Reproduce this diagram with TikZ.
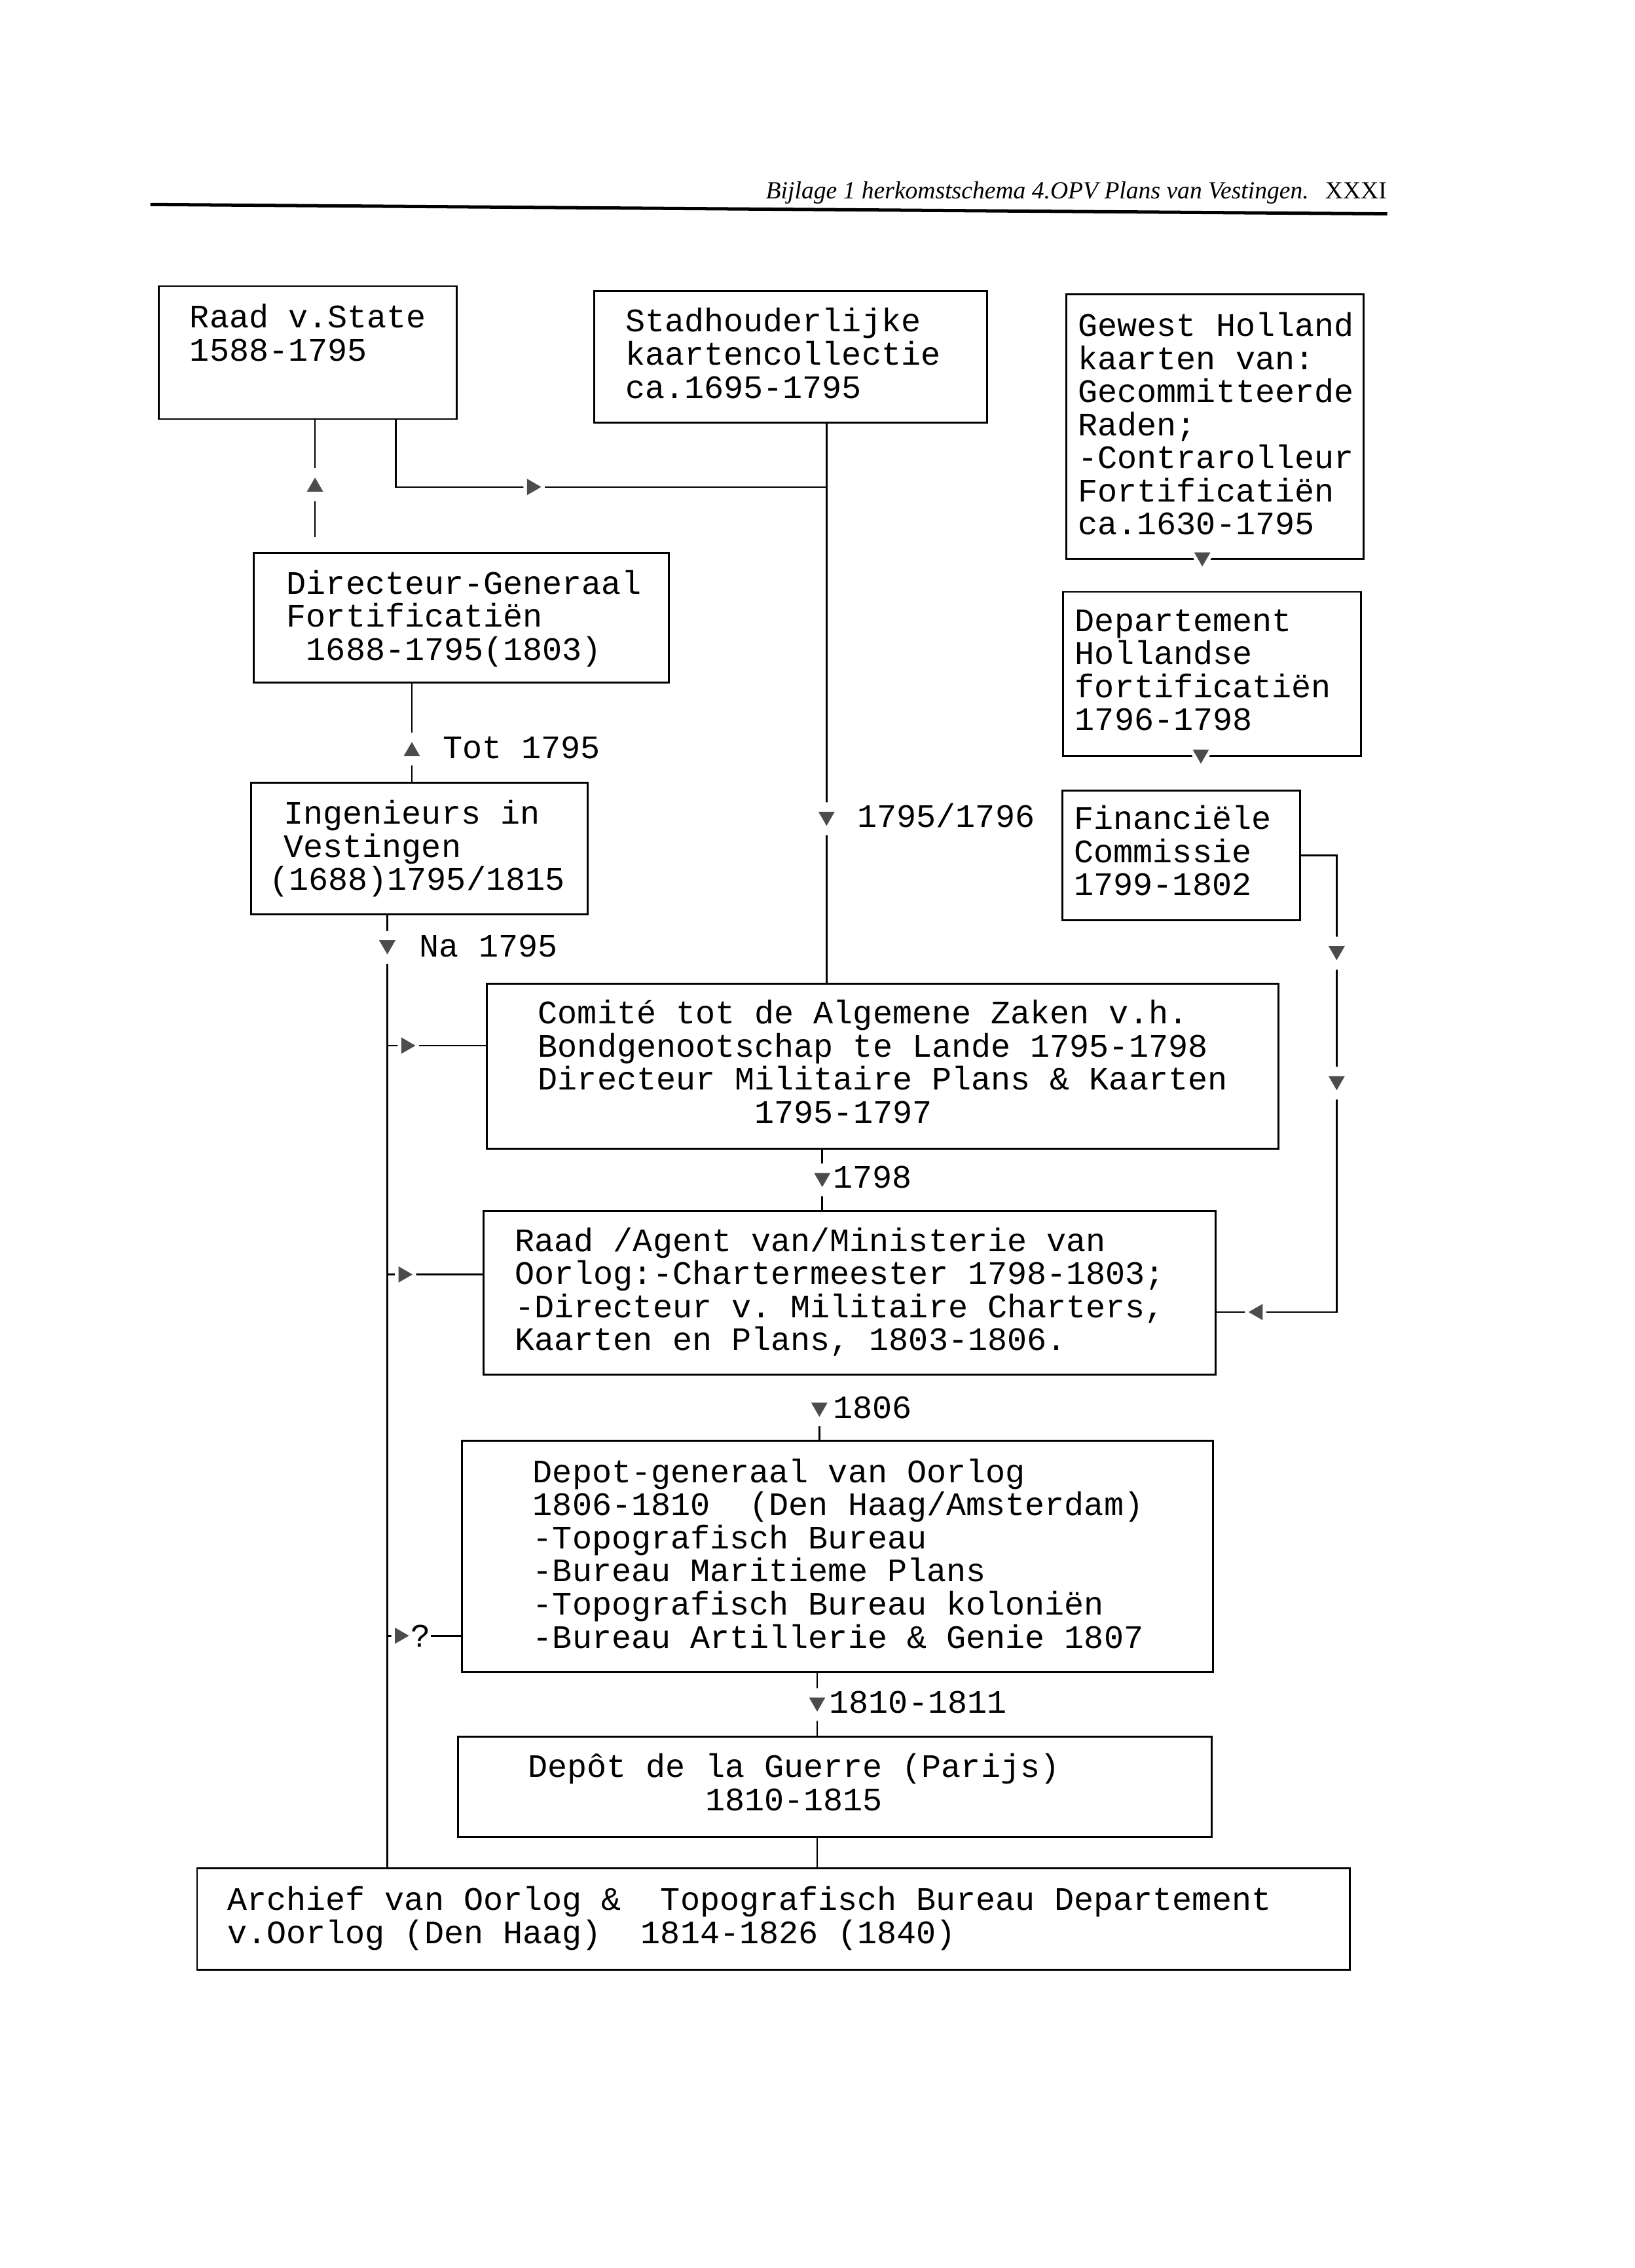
\documentclass[tikz,border=0pt]{standalone}
\usepackage{fontspec}
\setmainfont{Liberation Serif}
\setmonofont{Liberation Mono}
\usetikzlibrary{shapes.geometric}

%% one unit = one pixel of the scanned page at 1131 px width
\def\px{0.018568cm}
\newcommand\mono{\ttfamily\fontsize{12}{12.1}\selectfont\lineskiplimit=-20pt}
\newcommand\boxlines[1]{\vtop{\let\\\cr\halign{##\hfil\cr#1\crcr}}}

\begin{document}
\begin{tikzpicture}[x=\px, y=-\px,
box/.style 2 args={draw, line width=0.7pt, minimum width=#1*\px, minimum height=#2*\px, anchor=north west, inner sep=0pt, outer sep=0pt},
txt/.style={anchor=base west, inner sep=0pt, font=\mono},
lbl/.style={anchor=base west, inner sep=0pt, font=\mono},
link/.style={line width=0.6pt},
tri/.style={regular polygon, regular polygon sides=3, fill=black!70, inner sep=0pt, minimum size=13*\px},
vtri/.style={tri, preaction={draw=white, line width=13*\px, line join=round}},
htri/.style={tri, preaction={draw=white, line width=5*\px, line join=round}}]

%% page
\path[fill=white, use as bounding box] (0,0) rectangle (1131,1569.6);

%% running head
\node[anchor=base east, inner sep=0pt, font=\fontsize{9}{11}\selectfont\itshape] (head) at (906,137.7)
      {Bijlage 1 herkomstschema 4.OPV Plans van Vestingen.};
\node[anchor=base east, inner sep=0pt, font=\fontsize{9}{11}\selectfont] (folio) at (960,137.7) {XXXI};
\draw[line width=1.2pt] (104,141.5) -- (960,148);

%% boxes
\node[box={206}{92}]    (raad)    at (110,198)   {};
\node[box={272}{91}]    (stad)    at (411,201.6) {};
\node[box={206}{183}]   (gewest)  at (737.7,203.8) {};
\node[box={287.5}{90}]  (dirgen)  at (175.5,382.5) {};
\node[box={206}{113.4}] (dept)    at (735.6,409.6) {};
\node[box={233}{91}]    (ing)     at (173.6,541.6) {};
\node[box={164.6}{90}]  (fin)     at (735,547)   {};
\node[box={547.5}{114}] (comite)  at (337,681)   {};
\node[box={506.4}{113.5}] (oorlog) at (334.6,838) {};
\node[box={520}{160}]   (depot)   at (319.5,997) {};
\node[box={521.6}{69}]  (guerre)  at (317,1202)  {};
\node[box={797.6}{70}]  (archief) at (136.4,1293) {};

%% box texts
\node[txt] (raad-t) at (131,227) {\boxlines{Raad v.State\\1588-1795}};
\node[txt] (stad-t) at (432.4,229.7) {\boxlines{Stadhouderlijke\\kaartencollectie\\ca.1695-1795}};
\node[txt] (gewest-t) at (745.7,232.7) {\boxlines{Gewest Holland\\kaarten van:\\Gecommitteerde\\Raden;\\-Contrarolleur\\Fortificatiën\\ca.1630-1795}};
\node[txt] (dirgen-t) at (198,411) {\boxlines{Directeur-Generaal\\Fortificatiën\\\phantom{0}1688-1795(1803)}};
\node[txt] (dept-t) at (743.6,436.8) {\boxlines{Departement\\Hollandse\\fortificatiën\\1796-1798}};
\node[txt] (ing-t) at (186,570.3) {\boxlines{\kern5.3pt Ingenieurs in\\\kern5.3pt Vestingen\\(1688)1795/1815}};
\node[txt] (fin-t) at (743,574) {\boxlines{Financiële\\Commissie\\1799-1802}};
\node[txt] (comite-t) at (372,708.6) {\boxlines{Comité tot de Algemene Zaken v.h.\\Bondgenootschap te Lande 1795-1798\\Directeur Militaire Plans \& Kaarten\\\phantom{00000000000}1795-1797}};
\node[txt] (oorlog-t) at (356,866) {\boxlines{Raad /Agent van/Ministerie van\\Oorlog:-Chartermeester 1798-1803;\\-Directeur v. Militaire Charters,\\Kaarten en Plans, 1803-1806.}};
\node[txt] (depot-t) at (368.4,1026) {\boxlines{Depot-generaal van Oorlog\\1806-1810~ (Den Haag/Amsterdam)\\-Topografisch Bureau\\-Bureau Maritieme Plans\\-Topografisch Bureau koloniën\\-Bureau Artillerie \& Genie 1807}};
\node[txt] (guerre-t) at (365,1230) {\boxlines{Depôt de la Guerre (Parijs)\\\phantom{000000000}1810-1815}};
\node[txt] (archief-t) at (157,1322) {\boxlines{Archief van Oorlog \&~ Topografisch Bureau Departement\\v.Oorlog (Den Haag)~ 1814-1826 (1840)}};

%% arrow marks and corners
\foreach \c/\x/\y in {m-raad/218/337, m-h/368/337, m-stad/572/565, m-tot/285/520,
                      m-na/268/654, m-b1/281/723.6, m-b2/279/882, m-b3/276.5/1132,
                      m-1798/569/815, m-1806/567/974, m-1810/565.5/1178,
                      m-f1/925/658, m-f2/925/748, m-left/870.5/908,
                      m-gew/832/385.5, m-dep/831/522, j1/274/337, f2/925/908}
      \coordinate (\c) at (\x,\y);

\node[font=\mono, inner sep=0pt] (q) at (291,1132) {?};

%% connectors
\draw[link, shorten >=11*\px] (raad.south -| m-raad) -- (m-raad |- dirgen.north);
\draw[link] (raad.south -| j1) -- (j1) -- (j1 -| m-stad);
\draw[link] (stad.south -| m-stad) -- (m-stad |- comite.north);
\draw[link] (dirgen.south -| m-tot) -- (m-tot |- ing.north);
\draw[link] (ing.south -| m-na) -- (m-na |- archief.north);
\draw[link] (m-na |- m-b1) -- (m-b1 -| comite.west);
\draw[link] (m-na |- m-b2) -- (m-b2 -| oorlog.west);
\draw[link] (m-na |- m-b3) -- (m-b3);
\draw[link] (q) -- (q -| depot.west);
\draw[link] (comite.south -| m-1798) -- (m-1798 |- oorlog.north);
\draw[link] (m-1806) -- (m-1806 |- depot.north);
\draw[link] (depot.south -| m-1810) -- (m-1810 |- guerre.north);
\draw[link] (guerre.south -| m-1810) -- (m-1810 |- archief.north);
\draw[link] (fin.east) -| (f2) -- (f2 -| oorlog.east);

%% triangles on top of the lines
\foreach \c/\r in {m-raad/0, m-tot/0, m-stad/180, m-na/180, m-1798/180,
                   m-1806/180, m-1810/180, m-f1/180, m-f2/180}
      \node[vtri, shape border rotate=\r] (\c-tip) at (\c) {};
\foreach \c/\r in {m-h/-90, m-b1/-90, m-b2/-90, m-b3/-90, m-left/90, m-gew/180, m-dep/180}
      \node[htri, shape border rotate=\r] (\c-tip) at (\c) {};

%% labels at the marks
\node[lbl] (l-tot)  at (306,525)     {Tot 1795};
\node[lbl] (l-na)   at (290,662)     {Na 1795};
\node[lbl] (l-stad) at (593,572.4)   {1795/1796};
\node[lbl] (l-1798) at (576,822)     {1798};
\node[lbl] (l-1806) at (576,981.5)   {1806};
\node[lbl] (l-1810) at (573.6,1185.7) {1810-1811};

\end{tikzpicture}
\end{document}
